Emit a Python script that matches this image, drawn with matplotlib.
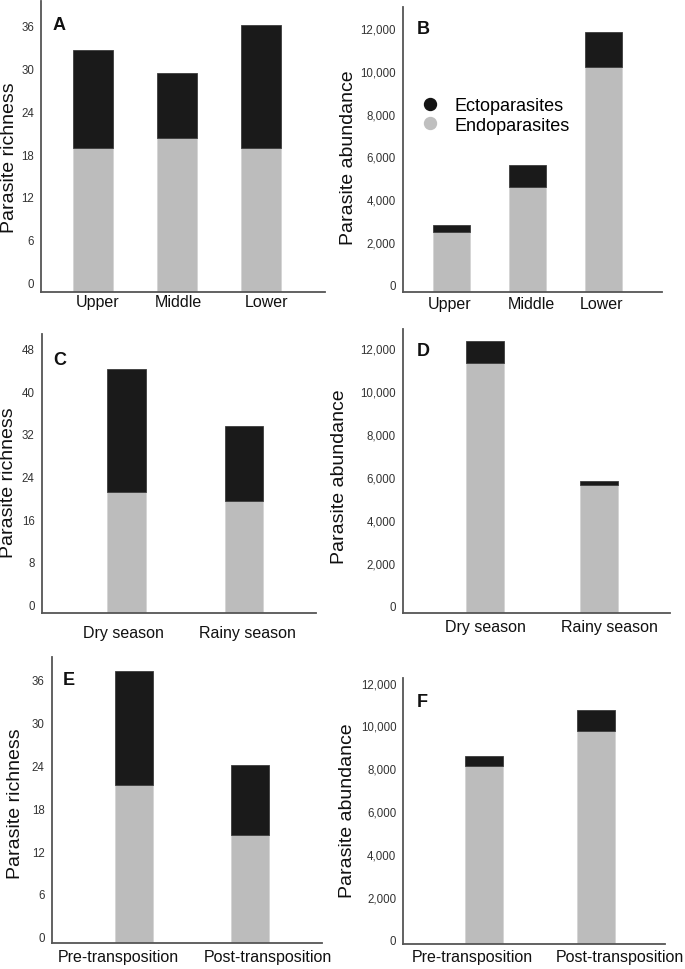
import numpy as np
import matplotlib
matplotlib.use("Agg")
import matplotlib.pyplot as plt
import matplotlib.transforms as mtransforms
from matplotlib.lines import Line2D
from matplotlib.ticker import FuncFormatter

plt.rcParams['font.family'] = ['Liberation Sans', 'DejaVu Sans']

# data
zones = ["Upper", "Middle", "Lower"]
zone_richness_endo = [18.8, 20.2, 18.8]
zone_richness_total = [32.6, 29.4, 36.1]
zone_abund_endo = [2460, 4550, 10180]
zone_abund_total = [2770, 5580, 11810]

seasons = ["Dry season", "Rainy season"]
season_richness_endo = [21.1, 19.4]
season_richness_total = [44.1, 33.4]
season_abund_endo = [11320, 5600]
season_abund_total = [12330, 5810]

periods = ["Pre-transposition", "Post-transposition"]
period_richness_endo = [21.3, 14.2]
period_richness_total = [37.2, 24.0]
period_abund_endo = [8100, 9760]
period_abund_total = [8560, 10720]

richness_ticks_6 = [0, 6, 12, 18, 24, 30, 36]
richness_ticks_8 = [0, 8, 16, 24, 32, 40, 48]
abund_ticks = [0, 2000, 4000, 6000, 8000, 10000, 12000]

ENDO = '#bcbcbc'
ECTO = '#1a1a1a'
SPINE = '#555555'

fig = plt.figure(figsize=(6.85, 9.7), dpi=100)
fig.patch.set_facecolor('white')


def draw_panel(rect, cats, endo, total, ticks, ylabel, letter, xlim, ylim,
               width, letter_xy, label_xy, xpad, label_shift, comma=False):
    ax = fig.add_axes(rect)
    x = np.arange(len(cats))
    endo = np.asarray(endo, dtype=float)
    total = np.asarray(total, dtype=float)
    floor = ylim[0]
    ax.bar(x, endo - floor, bottom=floor, width=width, color=ENDO,
           edgecolor='#d4d4d4', linewidth=0.6, zorder=2)
    ax.bar(x, total - endo, bottom=endo, width=width, color=ECTO,
           edgecolor='#3c3c3c', linewidth=0.6, zorder=2)
    ax.set_xlim(*xlim)
    ax.set_ylim(*ylim)
    ax.set_xticks(x)
    ax.set_xticklabels(cats, fontsize=11.5, color='#111111')
    ax.set_yticks(ticks)
    if comma:
        ax.yaxis.set_major_formatter(FuncFormatter(lambda v, p: f"{int(v):,}"))
    ax.tick_params(axis='y', length=0, pad=5, labelsize=8.3, labelcolor='#333333')
    ax.tick_params(axis='x', length=0, pad=xpad)
    # category labels sit a little off-centre in the original
    for tick, dx in zip(ax.xaxis.get_major_ticks(), label_shift):
        off = mtransforms.ScaledTranslation(dx * 0.72 / 72, 0, fig.dpi_scale_trans)
        tick.label1.set_transform(tick.label1.get_transform() + off)
    for s in ['top', 'right']:
        ax.spines[s].set_visible(False)
    for s in ['left', 'bottom']:
        ax.spines[s].set_color(SPINE)
        ax.spines[s].set_linewidth(1.3)
    ax.set_ylabel(ylabel, fontsize=14, color='#111111', va='center')
    ax.yaxis.set_label_coords(*label_xy)
    ax.text(letter_xy[0], letter_xy[1], letter, transform=ax.transAxes,
            fontsize=13, fontweight='bold', ha='left', va='center', color='#111111')
    return ax


axA = draw_panel([0.0599, 0.6979, 0.4146, 0.300], zones, zone_richness_endo,
                 zone_richness_total, richness_ticks_6, "Parasite richness", "A",
                 (-0.621, 2.770), (-1.4, 39.5), 0.478, (0.042, 0.921),
                 (-0.112, 0.464), 1.7, [5, 2, 6])

axB = draw_panel([0.5883, 0.6979, 0.3781, 0.2938], zones, zone_abund_endo,
                 zone_abund_total, abund_ticks, "Parasite abundance", "B",
                 (-0.632, 2.776), (-343, 12982), 0.487, (0.054, 0.926),
                 (-0.211, 0.475), 3.0, [-1, 4, -2], comma=True)

axC = draw_panel([0.0609, 0.3670, 0.4004, 0.2876], seasons, season_richness_endo,
                 season_richness_total, richness_ticks_8, "Parasite richness", "C",
                 (-0.719, 1.612), (-1.56, 50.7), 0.331, (0.041, 0.910),
                 (-0.120, 0.470), 8.6, [-3, 3])

axD = draw_panel([0.5879, 0.3670, 0.3902, 0.2928], seasons, season_abund_endo,
                 season_abund_total, abund_ticks, "Parasite abundance", "D",
                 (-0.719, 1.616), (-357, 12900), 0.332, (0.053, 0.923),
                 (-0.237, 0.484), 4.3, [0, 10], comma=True)

axE = draw_panel([0.0755, 0.0268, 0.3942, 0.2948], periods, period_richness_endo,
                 period_richness_total, richness_ticks_6, "Parasite richness", "E",
                 (-0.709, 1.618), (-0.89, 39.2), 0.328, (0.042, 0.923),
                 (-0.133, 0.490), 4.3, [-16, 18])

axF = draw_panel([0.5888, 0.0258, 0.3820, 0.2742], periods, period_abund_endo,
                 period_abund_total, abund_ticks, "Parasite abundance", "F",
                 (-0.720, 1.616), (-203, 12218), 0.337, (0.052, 0.910),
                 (-0.213, 0.504), 3.5, [-12, 24], comma=True)

handles = [Line2D([], [], linestyle='none', marker='o', markersize=8.6,
                  markerfacecolor='#141414', markeredgecolor='#141414'),
           Line2D([], [], linestyle='none', marker='o', markersize=8.6,
                  markerfacecolor='#bfbfbf', markeredgecolor='#bfbfbf')]
axB.legend(handles, ["Ectoparasites", "Endoparasites"], loc='upper left',
           bbox_to_anchor=(0.0695, 0.684), frameon=False, fontsize=13,
           borderpad=0, borderaxespad=0, handlelength=1.0, handletextpad=0.85,
           labelspacing=0.15)

fig.savefig("out.png", dpi=100, facecolor='white')
